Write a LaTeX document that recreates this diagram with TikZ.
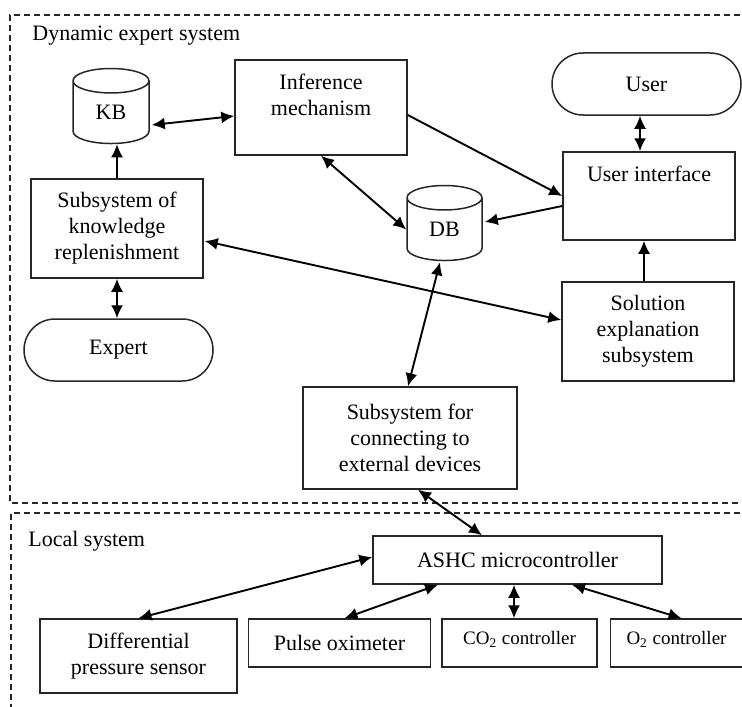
\documentclass[tikz,border=0pt]{standalone}
\usepackage{fontspec}
\setmainfont{Liberation Serif}
\usetikzlibrary{shapes.geometric, arrows.meta, positioning, calc}

\begin{document}
\begin{tikzpicture}[
    x=0.5pt, y=-0.5pt,
    font=\fontsize{11}{13}\selectfont,
    % Style definitions
    block/.style={rectangle, draw=black!85, line width=0.75pt, align=center, inner sep=0pt},
    terminal/.style={rectangle, rounded corners=15.5pt, draw=black!85, line width=0.75pt,
                     minimum width=94.5pt, minimum height=31pt},
    store/.style={cylinder, shape border rotate=90, aspect=0.8, draw=black!85, line width=0.75pt,
                  minimum width=38pt, minimum height=37.5pt, inner sep=0pt},
    device/.style={block, minimum height=24pt, font=\fontsize{9.5}{11}\selectfont,
                   text height=7pt, text depth=5.6pt},
    region/.style={draw=black!85, line width=0.6pt, dash pattern=on 3pt off 2pt},
    title/.style={anchor=west, inner sep=0pt},
    arrow/.style={-{Latex[length=6.5pt, width=6pt]}, line width=0.95pt},
    biarrow/.style={{Latex[length=6.5pt, width=6pt]}-{Latex[length=6.5pt, width=6pt]}, line width=0.95pt},
]
\useasboundingbox (0,0) rectangle (742,706);

% Regions
\draw[region] (760,15) -| (10,503) -- (760,503);
\draw[region] (760,513) -| (11,720);
\node[title] (dyntitle) at (32,36) {Dynamic expert system};
\node[title] (loctitle) at (28,541) {Local system};

% Dynamic expert system
\node[store] (kb) at (111,112.5) {KB};
\node[block, minimum width=86pt, minimum height=47.5pt] (inf) at (321,107.5) {Inference\\mechanism\\~};
\node[block, minimum width=86pt, minimum height=49.5pt] (subsys) at (117,228.5) {Subsystem of\\knowledge\\replenishment};
\node[terminal] (expert) at (118.5,350) {Expert};
\node[store, minimum width=37.5pt] (db) at (444.5,229.5) {DB};
\node[terminal] (user) at (646.5,84) {User};
\node[block, minimum width=86pt, minimum height=44pt] (ui) at (649,196) {User interface\\[9.3pt]~};
\node[block, minimum width=86pt, minimum height=49.5pt] (sol) at (648,331.5) {Solution\\explanation\\subsystem};
\node[block, minimum width=107pt, minimum height=51pt] (conn) at (410,438) {Subsystem for\\connecting to\\external devices};

% Local system
\node[block, minimum width=144.5pt, minimum height=24pt] (ashc) at (517.5,560) {ASHC microcontroller};
\node[block, minimum width=98.5pt, minimum height=37pt] (diff) at (138.5,656) {Differential\\pressure sensor};
\node[block, minimum width=91pt, minimum height=24pt, right=5pt of diff.north east, anchor=north west] (pulse) {Pulse oximeter};
\node[device, minimum width=77.5pt, right=5pt of pulse] (co2) {CO\textsubscript{2} controller};
\node[device, minimum width=66pt, right=6pt of co2] (o2) {O\textsubscript{2} controller};

% Arrows - expert system
\draw[biarrow] ($(kb.east)+(2,12.5)$) -- ($(inf.west)+(0,8.5)$);
\draw[arrow] (subsys.north) -- (subsys.north |- kb.south);
\draw[biarrow] (subsys.south) -- (subsys.south |- expert.north);
\draw[biarrow] (inf.south) -- (db.west);
\draw[arrow] ($(inf.east)+(0,7.5)$) -- (ui.west);
\draw[arrow] ($(ui.west)+(0,10)$) -- ($(db.east)+(2,-7.5)$);
\draw[biarrow] ([xshift=-3.25pt]user.south) -- ([xshift=-3.25pt]user.south |- ui.north);
\draw[arrow] ([xshift=-2pt]sol.north) -- ([xshift=-2pt]sol.north |- ui.south);
\draw[biarrow] ($(subsys.east)+(1,12.5)$) -- ($(sol.west)+(0,-11.5)$);
\draw[biarrow] ($(db.south)+(-4.5,1)$) -- ($(conn.north)+(-2,0)$);

% Arrows - local system
\draw[biarrow] ($(conn.south)+(8,0)$) -- ($(ashc.north)+(-35.5,0)$);
\draw[biarrow] (diff.north) -- ($(ashc.west)+(0,-3)$);
\draw[biarrow] ($(pulse.north)+(5,0)$) -- ($(ashc.south)+(-79.5,0)$);
\draw[biarrow] ([xshift=-2.75pt]co2.north) -- ([xshift=-2.75pt]co2.north |- ashc.south);
\draw[biarrow] ($(ashc.south)+(54.5,0)$) -- ($(o2.north)+(5,0)$);

\end{tikzpicture}
\end{document}
